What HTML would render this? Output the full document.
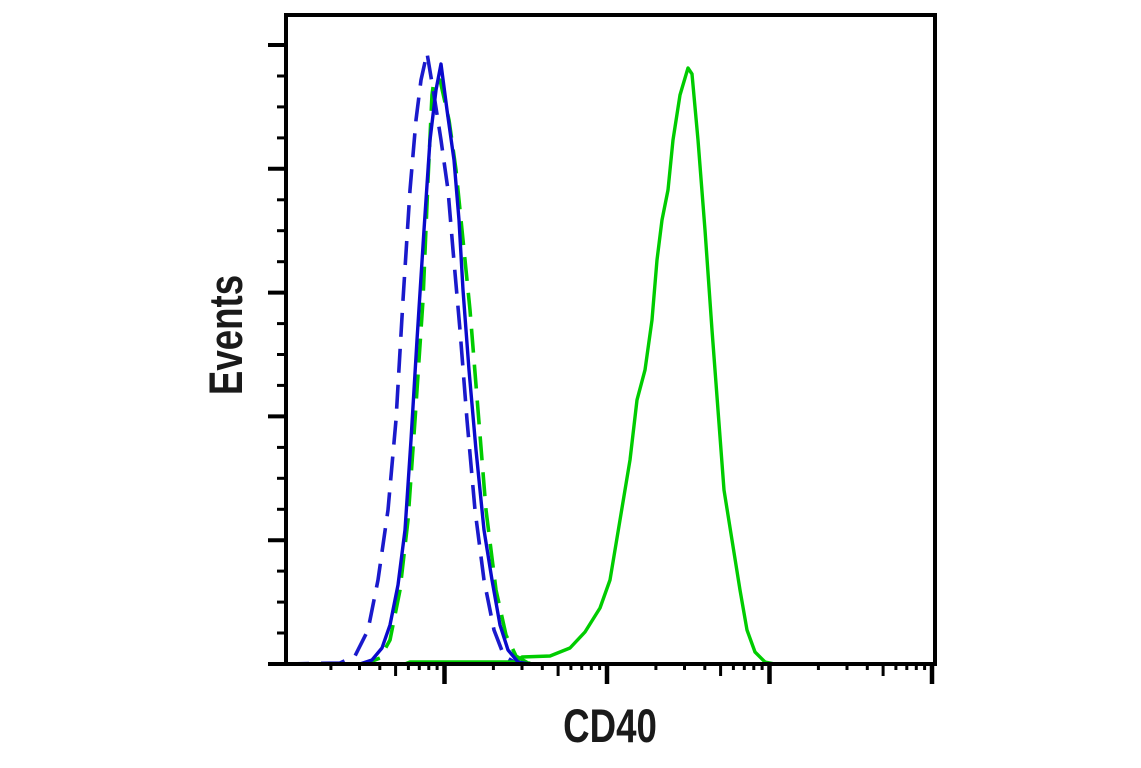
<!DOCTYPE html>
<html><head><meta charset="utf-8"><style>html,body{margin:0;padding:0;background:#fff;}svg{display:block}</style></head>
<body>
<svg id="s" width="1141" height="768" viewBox="0 0 1141 768" xmlns="http://www.w3.org/2000/svg">
<g fill="none" stroke-linejoin="round" stroke-linecap="butt">
<path stroke="#00cc00" stroke-width="3.6" stroke-dasharray="24,12" d="M285,664 L365,664 L380,658 L390,640 L400,590 L408,520 L415,420 L423,300 L428,180 L432,95 L434,80 L440,80 L449,120 L456,170 L463,240 L470,310 L478,410 L486,510 L496,590 L506,635 L516,656 L528,663 L540,664"/>
<path stroke="#1a1acc" stroke-width="3.6" stroke-dasharray="24,12" d="M285,664 L340,663 L355,656 L368,630 L378,580 L388,510 L396,420 L403,300 L410,190 L416,120 L421,80 L427,53 L434,95 L441,140 L448,190 L453,250 L460,330 L467,420 L475,510 L484,580 L494,630 L504,656 L516,663 L530,664"/>
<path stroke="#00cc00" stroke-width="3.4" d="M285,664 L405,664 L410,662 L515,662 L522,657 L550,656 L570,648 L585,632 L600,608 L610,580 L620,520 L630,460 L637,400 L645,370 L652,320 L657,260 L662,220 L668,190 L673,140 L680,95 L688,68 L692,74 L698,140 L705,230 L712,330 L718,410 L724,490 L732,540 L740,590 L747,630 L755,652 L765,662 L775,664 L935,664"/>
<path stroke="#0a0acc" stroke-width="3.4" d="M285,664 L360,664 L372,660 L382,648 L390,625 L398,585 L405,530 L411,440 L417,340 L424,230 L430,140 L436,90 L441,64 L447,110 L454,160 L459,220 L463,290 L469,370 L476,450 L484,530 L492,580 L500,625 L508,650 L518,662 L530,664 L935,664"/>
</g>
<path d="M286,15 L935,15 L935,664 L286,664 Z" fill="none" stroke="#000" stroke-width="4"/>
<g id="t" stroke="#000" stroke-width="3"></g>
<text x="610" y="742" text-anchor="middle" font-family="Liberation Sans, sans-serif" font-weight="bold" font-size="47" fill="#1a1a1a" transform="translate(610 0) scale(0.78 1) translate(-610 0)">CD40</text>
<text transform="translate(242 335) rotate(-90) scale(0.78 1)" text-anchor="middle" font-family="Liberation Sans, sans-serif" font-weight="bold" font-size="47" fill="#1a1a1a">Events</text>
</svg>
<script>
var g=document.getElementById('t'),h='';
for(var i=1;i<=20;i++){var y=664-i*30.95;var maj=(i%4==0);
h+='<line x1="'+(maj?268:277)+'" y1="'+y.toFixed(1)+'" x2="286" y2="'+y.toFixed(1)+'" stroke-width="'+(maj?4:3)+'"/>';}
h+='<line x1="268" y1="664" x2="286" y2="664" stroke-width="4"/>';
var d=162.5,x0=444.5-d;
for(var k=0;k<4;k++){var b=x0+k*d;
for(var m=2;m<=10;m++){var x=b+Math.log10(m)*d;if(x>934)x=932.5;var len=(m==10)?20:(m==5?12:6);
h+='<line x1="'+x.toFixed(1)+'" y1="664" x2="'+x.toFixed(1)+'" y2="'+(664+len)+'" stroke-width="'+(m==10?4.5:3)+'"/>';}}
g.innerHTML=h;
</script>
</body></html>
